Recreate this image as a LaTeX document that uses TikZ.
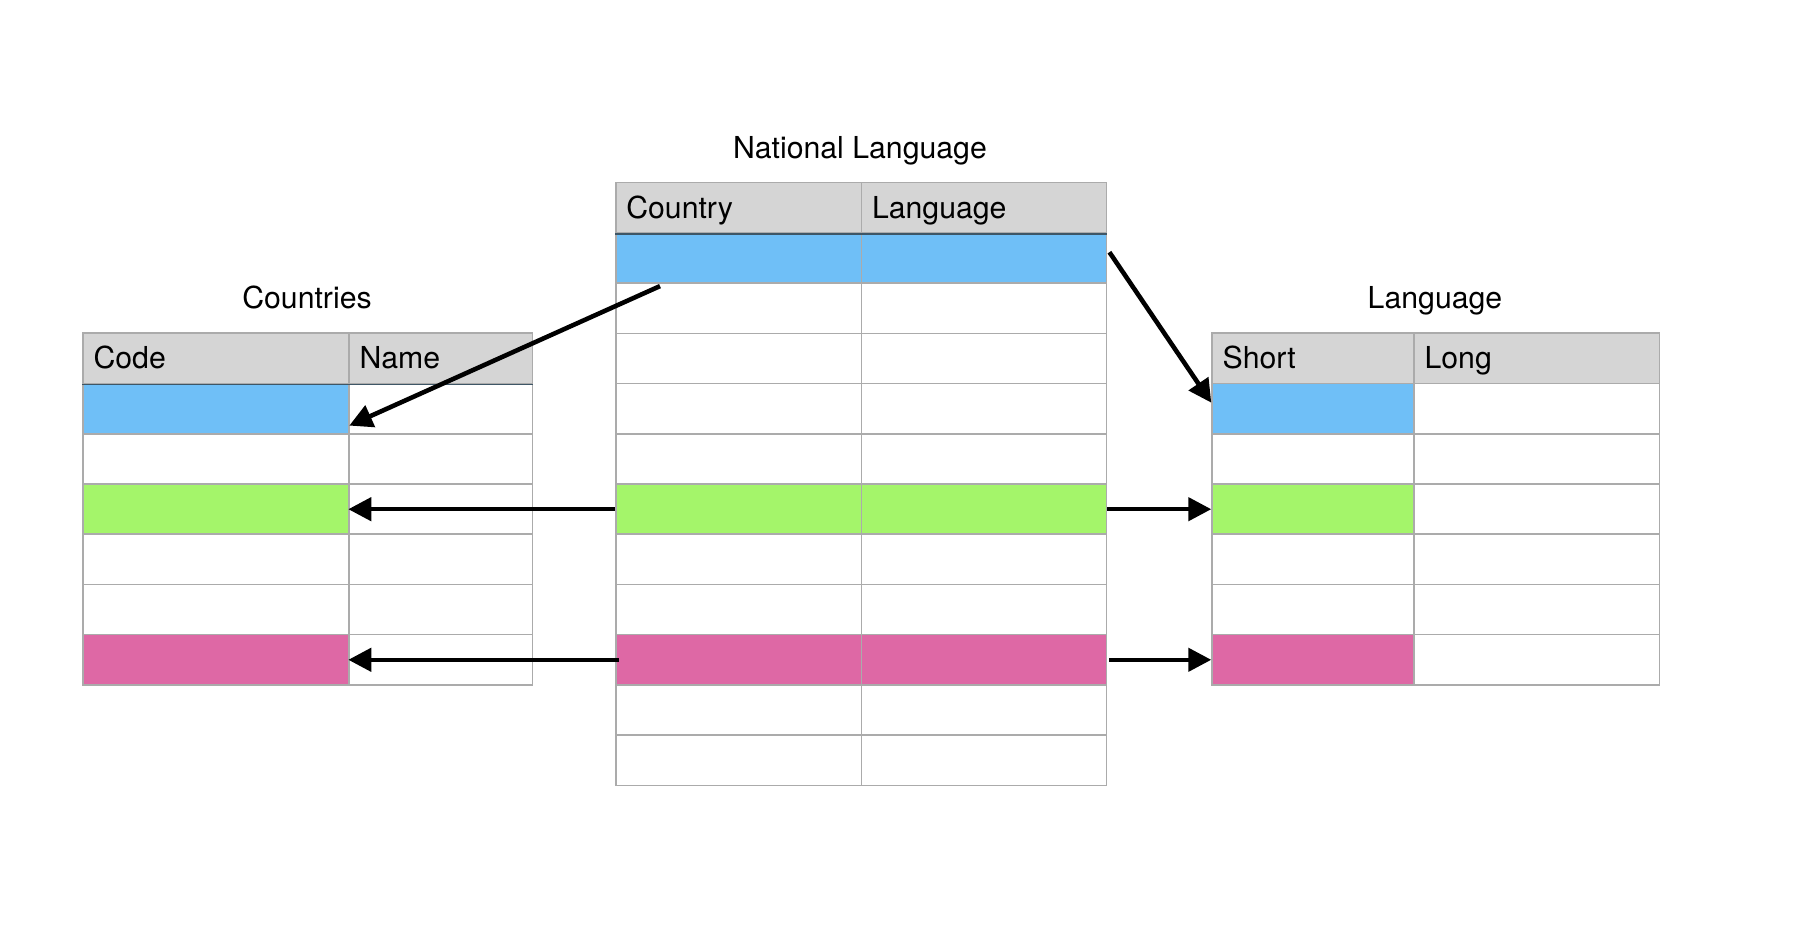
\documentclass[tikz,border=0pt]{standalone}
\usepackage{fontspec}
\setmainfont{TeX Gyre Heros}
\usepackage{tikz}
\usetikzlibrary{arrows.meta,calc}
\definecolor{gridgray}{HTML}{ABABAB}
\definecolor{headgray}{HTML}{D5D5D5}
\definecolor{headline}{HTML}{3E5666}
\definecolor{blueRow}{HTML}{6FBFF7}
\definecolor{greenRow}{HTML}{A4F56A}
\definecolor{pinkRow}{HTML}{DE68A5}
\newcommand{\tabfont}{\fontsize{8.6}{10.4}\selectfont}
\newcommand{\headstrut}{\rule[-3pt]{0pt}{11.8pt}}

\begin{document}
\begin{tikzpicture}[x=0.01cm,y=-0.01cm,
    cell/.style={draw=gridgray,line width=0.45pt,inner xsep=0.105cm,inner ysep=0pt,
      minimum height=0.502cm,text width=#1,align=left,anchor=north west,font=\tabfont},
    head/.style={cell=#1,fill=headgray,minimum height=0.505cm,execute at begin node=\headstrut},
    title/.style={font=\tabfont,anchor=base},
    link/.style={line width=1.3pt,-{Triangle[length=0.23cm,width=0.23cm]}}]
    \useasboundingbox (0,0) rectangle (1814,940);

    % Countries
    \node[title] (cn-title) at (307,309) {Countries};
    \node[head=2.45cm] (cn-0-1) at (82.3,332.3) {Code};
    \node[head=1.624cm] (cn-0-2) at (348.3,332.3) {Name};
    \foreach \r/\c in {1/blueRow,2/white,3/greenRow,4/white,5/white,6/pinkRow} {
        \node[cell=2.45cm,fill=\c] (cn-\r-1) at (82.3,{332.3+50.5+50.2*(\r-1)}) {};
        \node[cell=1.624cm] (cn-\r-2) at (348.3,{332.3+50.5+50.2*(\r-1)}) {};
    }
    \draw[headline,line width=0.5pt] (cn-0-1.south west) -- (cn-0-2.south east);

    % National Language
    \node[title] (nl-title) at (860,159) {National Language};
    \node[head=2.247cm] (nl-0-1) at (615,181.8) {Country};
    \node[head=2.24cm] (nl-0-2) at (860.7,181.8) {Language};
    \foreach \r/\c in {1/blueRow,2/white,3/white,4/white,5/white,6/greenRow,
                       7/white,8/white,9/pinkRow,10/white,11/white} {
        \node[cell=2.247cm,fill=\c] (nl-\r-1) at (615,{181.8+50.5+50.2*(\r-1)}) {};
        \node[cell=2.24cm,fill=\c] (nl-\r-2) at (860.7,{181.8+50.5+50.2*(\r-1)}) {};
    }
    \draw[headline,line width=0.5pt] (nl-0-1.south west) -- (nl-0-2.south east);

    % Language
    \node[title] (lg-title) at (1435,309) {Language};
    \node[head=1.81cm] (lg-0-1) at (1211.3,332.3) {Short};
    \node[head=2.244cm] (lg-0-2) at (1413.3,332.3) {Long};
    \foreach \r/\c in {1/blueRow,2/white,3/greenRow,4/white,5/white,6/pinkRow} {
        \node[cell=1.81cm,fill=\c] (lg-\r-1) at (1211.3,{332.3+50.5+50.2*(\r-1)}) {};
        \node[cell=2.244cm] (lg-\r-2) at (1413.3,{332.3+50.5+50.2*(\r-1)}) {};
    }

    % links
    \draw[link] ($(nl-1-1.south west)+(45,2)$) -- ($(cn-1-2.south west)+(1,-9)$);
    \draw[link] ($(nl-1-2.east)+(2,-6)$) -- ($(lg-1-1.west)+(0,-6)$);
    \draw[link] (nl-6-1.west) -- (nl-6-1.west -| cn-3-2.west);
    \draw[link] (nl-6-2.east) -- (nl-6-2.east -| lg-3-1.west);
    \draw[link] ($(nl-9-1.west)+(4,0)$) -- (nl-9-1.west -| cn-6-2.west);
    \draw[link] ($(nl-9-2.east)+(2,0)$) -- (nl-9-2.east -| lg-6-1.west);
\end{tikzpicture}
\end{document}
